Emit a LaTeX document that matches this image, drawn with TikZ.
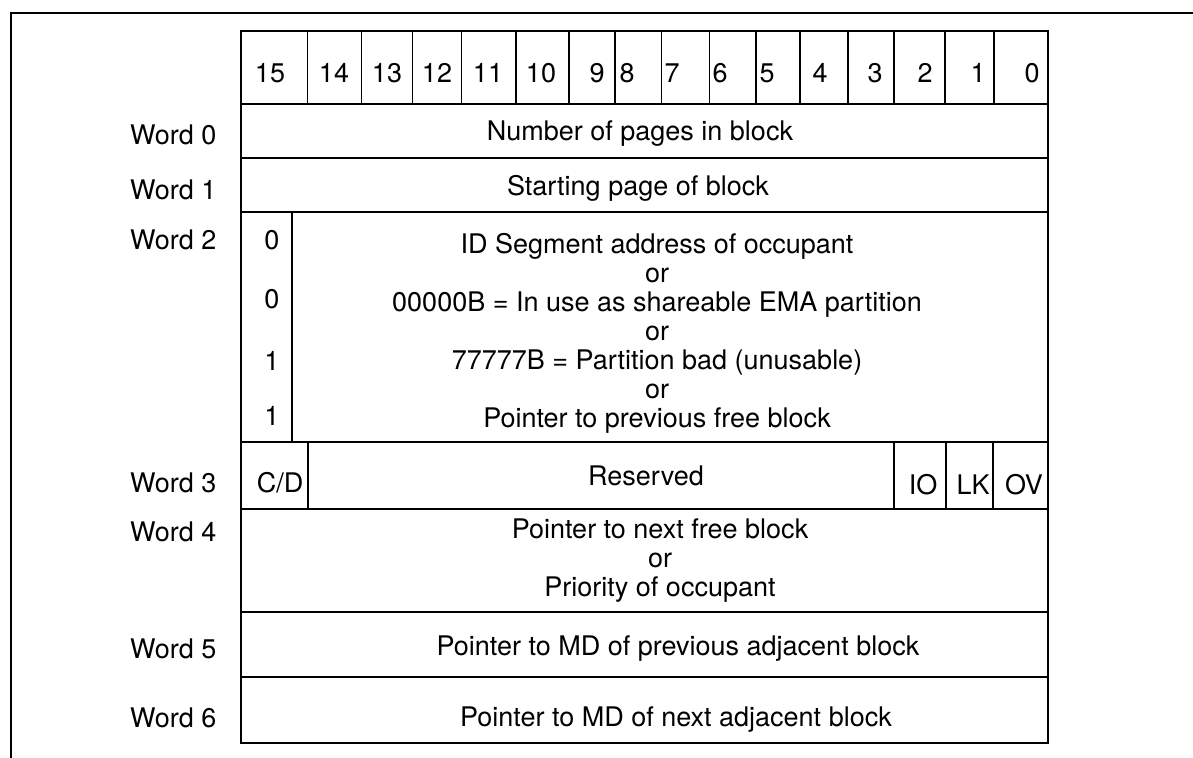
\documentclass[tikz,border=0pt]{standalone}
\usepackage{fontspec}
\setmainfont{TeX Gyre Heros}
\begin{document}
\begin{tikzpicture}[x=0.5pt, y=-0.5pt, line width=0.65pt,
    every node/.style={font=\fontsize{13.5}{14.5}\selectfont, inner sep=0pt},
    cell/.style={text height=9.7pt, text depth=0pt},
    lines/.style={align=center},
    wordlabel/.style={cell, anchor=east}]
  \useasboundingbox (0,0) rectangle (1193,758);
  \draw (11,758) -- (11,13) -- (1193,13);

  % bit numbers
  \draw (241,31) rectangle (1048,104);
  \foreach \x in {307.7,361.7,412.7,461.7,516,569,615,661.7,709.3,756,800,848,894,945,994}
    \draw (\x,31) -- (\x,104);
  \foreach \b/\x in {15/270,14/334,13/387,12/437,11/488,10/541,9/597,8/627,7/672,6/720,5/767,4/820,3/875,2/925,1/978,0/1032}
    \node[cell] (bit\b) at (\x,73) {\b};

  % word labels
  \foreach \w/\y in {0/135,1/190,2/240,3/483,4/532,5/649,6/718}
    \node[wordlabel] (word\w) at (217,\y) {Word \w};

  % words 0 and 1
  \draw (241,104) rectangle (1048,158);
  \node[cell] (pages) at (640,131) {Number of pages in block};
  \draw (241,158) rectangle (1048,212);
  \node[cell] (start) at (638,186) {Starting page of block};

  % word 2
  \draw (241,212) rectangle (1048,442);
  \draw (292,212) -- (292,442);
  \foreach \v/\y [count=\i] in {0/240,0/299,1/361,1/416}
    \node[cell] (flag\i) at (272,\y) {\v};
  \node[lines] (occupant) at (657,333) {ID Segment address of occupant\\or\\00000B = In use as shareable EMA partition\\or\\77777B = Partition bad (unusable)\\or\\Pointer to previous free block};

  % word 3
  \draw (241,442) rectangle (1048,509);
  \foreach \x in {308,894,946,993}
    \draw (\x,442) -- (\x,509);
  \node[cell] (cd) at (280,483) {C/D};
  \node[cell] (reserved) at (646,476) {Reserved};
  \node[cell] (io) at (923,485) {IO};
  \node[cell] (lk) at (973,485) {LK};
  \node[cell] (ov) at (1024,485) {OV};

  % word 4
  \draw (241,509) rectangle (1048,612);
  \node[lines] (nextfree) at (660,561) {Pointer to next free block\\or\\Priority of occupant};

  % words 5 and 6
  \draw (241,612) rectangle (1048,677);
  \node[cell] (prevadj) at (678,646) {Pointer to MD of previous adjacent block};
  \draw (241,677) rectangle (1048,743);
  \node[cell] (nextadj) at (676,717) {Pointer to MD of next adjacent block};
\end{tikzpicture}
\end{document}
